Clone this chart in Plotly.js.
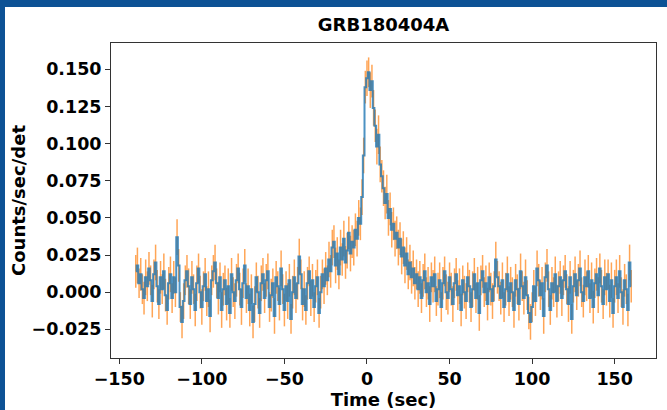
<!DOCTYPE html>
<html>
<head>
<meta charset="utf-8">
<script src="https://cdn.plot.ly/plotly-3.0.1.min.js"></script>
<style>
  html, body { margin:0; padding:0; background:#fff; }
  #chart { position:absolute; left:0; top:0; width:667px; height:410px; }
  .band { position:absolute; background:#0d5295; }
</style>
</head>
<body>
<div id="chart"></div>
<div class="band" style="left:0;top:0;width:667px;height:7px;"></div>
<div class="band" style="left:0;top:0;width:5px;height:410px;"></div>
<script>
// Time bins (sec), 1 s spacing from -140 to 160
const timeSec = [];
for (let t = -140; t <= 160; t += 1) timeSec.push(t);

// Background-subtracted rate (counts/sec/det), one row = 10 s
const rate = [
  0.014, 0.018, 0.006, 0.012, 0.002, -0.004, 0.010, 0.004, 0.016, 0.008,
  -0.006, 0.012, 0.020, 0.004, -0.008, 0.010, 0.002, 0.014, -0.002, -0.012,
  0.006, 0.012, -0.004, 0.010, 0.000, 0.037, 0.018, -0.010, -0.020, -0.006,
  0.008, 0.014, 0.004, -0.008, 0.010, 0.002, -0.012, 0.006, 0.016, 0.000,
  -0.010, 0.004, 0.012, -0.006, 0.002, -0.016, 0.008, 0.014, 0.020, 0.006,
  -0.004, 0.010, -0.012, 0.002, 0.008, -0.008, 0.004, -0.014, 0.012, 0.000,
  -0.006, 0.008, 0.016, 0.002, -0.010, 0.006, 0.018, -0.004, 0.004, -0.012,
  0.002, -0.020, -0.008, 0.010, 0.000, -0.014, 0.006, 0.012, -0.004, 0.008,
  0.014, -0.010, -0.002, 0.006, -0.016, 0.010, 0.004, -0.008, 0.016, 0.002,
  -0.012, 0.004, -0.006, 0.008, -0.018, 0.000, 0.010, -0.004, 0.006, 0.024,
  0.012, -0.008, 0.002, -0.012, 0.006, 0.014, -0.004, 0.008, -0.010, 0.004,
  0.010, -0.014, 0.000, 0.012, 0.004, 0.016, 0.008, 0.022, 0.014, 0.030,
  0.034, 0.018, 0.026, 0.012, 0.030, 0.022, 0.036, 0.020, 0.028, 0.040,
  0.026, 0.034, 0.030, 0.042, 0.036, 0.050, 0.046, 0.064, 0.092, 0.138,
  0.144, 0.148, 0.136, 0.142, 0.124, 0.112, 0.098, 0.106, 0.086, 0.078,
  0.070, 0.060, 0.066, 0.050, 0.056, 0.042, 0.046, 0.036, 0.040, 0.030,
  0.036, 0.024, 0.030, 0.018, 0.026, 0.012, 0.020, 0.010, 0.016, 0.006,
  0.012, 0.002, 0.010, -0.004, 0.008, 0.014, 0.000, 0.006, -0.008, 0.010,
  0.004, 0.012, -0.006, 0.002, 0.008, -0.010, 0.006, 0.014, 0.000, -0.004,
  0.010, 0.002, -0.008, 0.006, 0.012, -0.002, 0.004, -0.012, 0.008, 0.000,
  -0.006, 0.010, 0.004, -0.010, 0.002, 0.012, -0.004, 0.006, -0.014, 0.008,
  0.014, 0.000, 0.006, -0.008, 0.010, 0.002, -0.006, 0.004, 0.022, 0.010,
  0.004, -0.004, 0.008, -0.010, 0.002, 0.012, -0.006, 0.006, 0.000, -0.012,
  0.008, 0.002, -0.008, 0.014, 0.004, -0.004, 0.010, -0.002, -0.014, -0.020,
  -0.010, 0.004, -0.006, 0.016, 0.008, -0.002, 0.006, -0.016, 0.010, 0.018,
  0.002, -0.012, 0.006, 0.000, 0.012, -0.006, 0.004, 0.010, -0.004, 0.008,
  0.014, 0.002, -0.008, 0.010, -0.018, 0.004, 0.012, -0.002, 0.008, 0.016,
  0.000, -0.006, 0.010, 0.004, 0.014, -0.004, 0.008, -0.010, 0.006, 0.012,
  -0.002, 0.016, 0.004, -0.008, 0.010, 0.002, 0.012, -0.006, 0.008, -0.014,
  0.004, 0.010, -0.004, 0.014, 0.000, -0.010, 0.008, 0.002, -0.012, 0.020,
  0.004
];

// 1-sigma uncertainties, one row = 10 s
const rateErr = [
  0.011, 0.012, 0.010, 0.011, 0.010, 0.011, 0.012, 0.010, 0.011, 0.010,
  0.011, 0.010, 0.012, 0.011, 0.010, 0.011, 0.010, 0.012, 0.011, 0.010,
  0.011, 0.012, 0.010, 0.011, 0.010, 0.012, 0.011, 0.010, 0.011, 0.012,
  0.010, 0.011, 0.012, 0.010, 0.011, 0.010, 0.011, 0.012, 0.010, 0.011,
  0.012, 0.010, 0.011, 0.010, 0.012, 0.011, 0.010, 0.011, 0.012, 0.010,
  0.011, 0.010, 0.012, 0.011, 0.010, 0.011, 0.012, 0.010, 0.011, 0.010,
  0.012, 0.011, 0.010, 0.011, 0.012, 0.010, 0.011, 0.010, 0.012, 0.011,
  0.010, 0.011, 0.012, 0.010, 0.011, 0.010, 0.012, 0.011, 0.010, 0.011,
  0.012, 0.010, 0.011, 0.010, 0.012, 0.011, 0.010, 0.011, 0.012, 0.010,
  0.011, 0.010, 0.012, 0.011, 0.010, 0.011, 0.012, 0.010, 0.011, 0.012,
  0.010, 0.011, 0.012, 0.010, 0.011, 0.010, 0.012, 0.011, 0.010, 0.011,
  0.012, 0.010, 0.011, 0.010, 0.012, 0.011, 0.010, 0.012, 0.011, 0.012,
  0.011, 0.012, 0.011, 0.010, 0.012, 0.011, 0.012, 0.011, 0.012, 0.011,
  0.012, 0.011, 0.012, 0.011, 0.012, 0.012, 0.011, 0.012, 0.012, 0.011,
  0.012, 0.010, 0.012, 0.011, 0.012, 0.011, 0.012, 0.013, 0.012, 0.011,
  0.012, 0.011, 0.013, 0.012, 0.011, 0.012, 0.011, 0.012, 0.011, 0.012,
  0.011, 0.012, 0.011, 0.012, 0.011, 0.010, 0.012, 0.011, 0.012, 0.011,
  0.010, 0.012, 0.011, 0.010, 0.011, 0.012, 0.010, 0.011, 0.012, 0.010,
  0.011, 0.012, 0.010, 0.011, 0.012, 0.010, 0.011, 0.010, 0.012, 0.011,
  0.010, 0.011, 0.012, 0.010, 0.011, 0.010, 0.012, 0.011, 0.010, 0.011,
  0.012, 0.010, 0.011, 0.010, 0.012, 0.011, 0.010, 0.011, 0.012, 0.010,
  0.011, 0.010, 0.012, 0.011, 0.010, 0.011, 0.012, 0.010, 0.012, 0.011,
  0.010, 0.011, 0.012, 0.010, 0.011, 0.012, 0.010, 0.011, 0.010, 0.012,
  0.011, 0.010, 0.011, 0.012, 0.010, 0.011, 0.012, 0.010, 0.011, 0.012,
  0.010, 0.011, 0.010, 0.012, 0.011, 0.010, 0.011, 0.012, 0.010, 0.011,
  0.012, 0.010, 0.011, 0.010, 0.012, 0.011, 0.010, 0.011, 0.012, 0.010,
  0.011, 0.010, 0.012, 0.011, 0.010, 0.011, 0.012, 0.010, 0.011, 0.012,
  0.010, 0.011, 0.012, 0.010, 0.011, 0.010, 0.012, 0.011, 0.010, 0.011,
  0.012, 0.010, 0.011, 0.010, 0.012, 0.011, 0.010, 0.011, 0.012, 0.010,
  0.011, 0.012, 0.010, 0.011, 0.010, 0.012, 0.011, 0.010, 0.011, 0.012,
  0.011
];

const xTickVals = [-150, -100, -50, 0, 50, 100, 150];
const yTickVals = [-0.025, 0.000, 0.025, 0.050, 0.075, 0.100, 0.125, 0.150];

const tickFont = {family: 'DejaVu Sans, sans-serif', size: 17.5, color: '#000', weight: 'bold'};
const titleFont = {family: 'DejaVu Sans, sans-serif', size: 18, color: '#000', weight: 'bold'};

const traces = [
  {
    x: timeSec, y: rate, type: 'scatter', mode: 'markers',
    marker: {size: 0, opacity: 0},
    error_y: {type: 'data', array: rateErr, visible: true,
              color: 'rgba(255,127,14,0.7)', thickness: 1.5, width: 0},
    hoverinfo: 'skip', showlegend: false
  },
  {
    x: timeSec, y: rate, type: 'scatter', mode: 'lines',
    line: {shape: 'hvh', color: 'rgba(31,119,180,0.8)', width: 2},
    showlegend: false
  }
];

const axisCommon = {
  showline: true, mirror: true, linecolor: '#333', linewidth: 1,
  ticks: 'outside', ticklen: 5, tickwidth: 1, tickcolor: '#333',
  showgrid: false, zeroline: false, tickfont: tickFont
};

const layout = {
  width: 667, height: 410,
  margin: {l: 111, r: 11, t: 43, b: 52, pad: 0},
  paper_bgcolor: '#fff', plot_bgcolor: '#fff',
  title: {text: 'GRB180404A', font: titleFont, x: 0.5, xanchor: 'center', xref: 'paper', y: 0.94, yanchor: 'middle'},
  xaxis: Object.assign({}, axisCommon, {
    range: [-155, 175], tickvals: xTickVals,
    title: {text: 'Time (sec)', font: titleFont, standoff: 0}
  }),
  yaxis: Object.assign({}, axisCommon, {
    range: [-0.0443, 0.1677], tickvals: yTickVals, tickformat: '.3f',
    title: {text: 'Counts/sec/det', font: titleFont, standoff: 1}
  })
};

Plotly.newPlot('chart', traces, layout, {displayModeBar: false, staticPlot: true});
</script>
</body>
</html>
